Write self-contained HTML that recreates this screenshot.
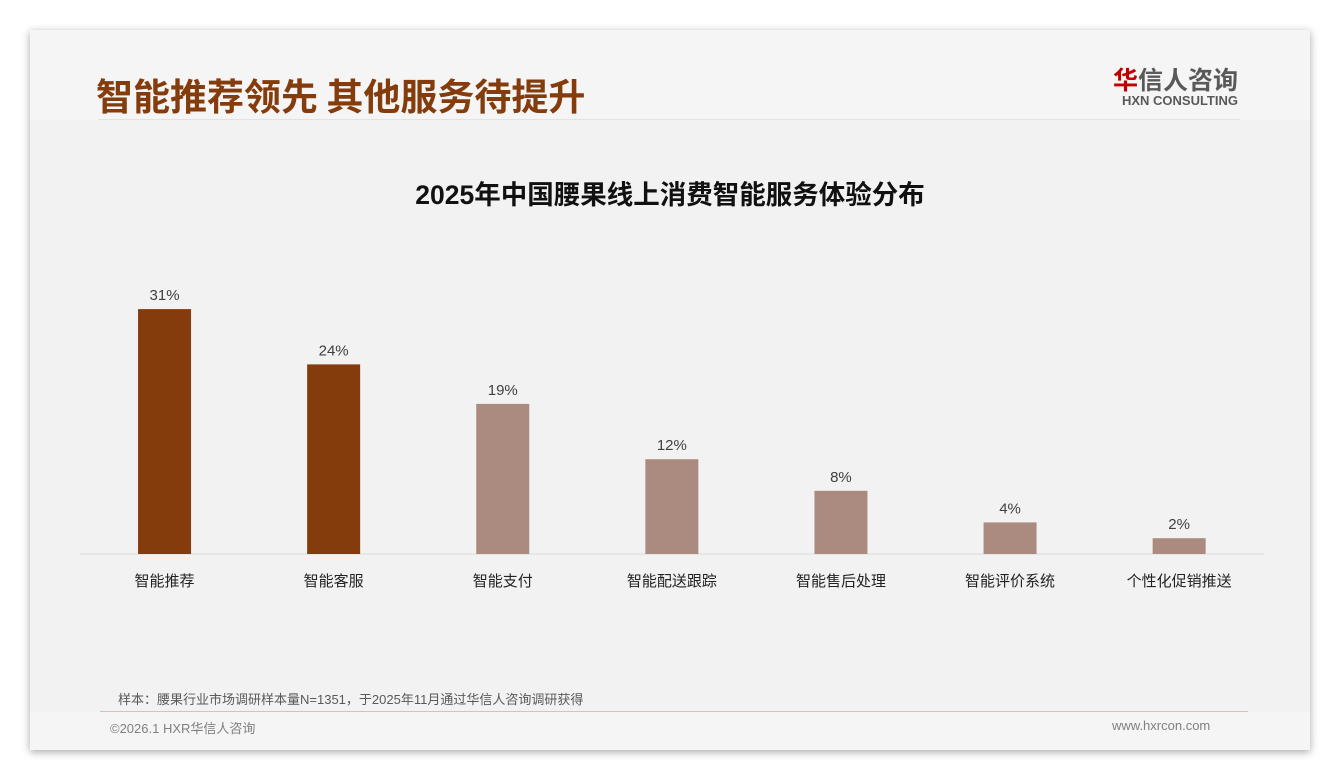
<!DOCTYPE html>
<html><head><meta charset="utf-8"><style>
body{margin:0;width:1340px;height:780px;background:#fff;font-family:"Liberation Sans","Noto Sans CJK SC",sans-serif;position:relative;overflow:hidden}
.card{position:absolute;left:30px;top:30px;width:1280px;height:720px;background:#f5f5f5;box-shadow:0 2px 8px rgba(0,0,0,.35)}
.abs{position:absolute}
</style></head><body>
<div class="card">
<div class="abs" style="left:0;top:90px;width:1280px;height:592px;background:#f2f2f2"></div>
<div class="abs" style="left:66px;top:41px;font-size:37px;font-weight:bold;color:#843c0c;font-family:'Noto Sans CJK SC',sans-serif;line-height:46px">智能推荐领先 其他服务待提升</div>
<div class="abs" style="left:68px;top:89px;width:1142px;height:1px;background:#e2e2e2"></div>
<div class="abs" style="left:1076px;top:34px;width:132px;text-align:right">
<div style="font-size:25px;font-weight:bold;color:#595959;line-height:30px;font-family:'Noto Sans CJK SC',sans-serif"><span style="color:#c00000">华</span>信人咨询</div>
<div style="font-size:13px;font-weight:bold;color:#595959;line-height:14px">HXN CONSULTING</div></div>
<div class="abs" style="left:70px;top:681px;width:1148px;height:1px;background:#d7c2b5"></div>
<div class="abs" style="left:88px;top:659px;font-size:13px;color:#595959">样本：腰果行业市场调研样本量N=1351，于2025年11月通过华信人咨询调研获得</div>
<div class="abs" style="left:80px;top:688px;font-size:13px;color:#808080">©2026.1 HXR华信人咨询</div>
<div class="abs" style="left:1082px;top:688px;font-size:13px;color:#808080">www.hxrcon.com</div>
</div>
<svg class="abs" style="left:0;top:0" width="1340" height="780" id="chart">
<text x="670" y="204" text-anchor="middle" font-size="26.5" font-weight="bold" fill="#111" font-family="Liberation Sans,Noto Sans CJK SC,sans-serif">2025年中国腰果线上消费智能服务体验分布</text>
<line x1="80" y1="554" x2="1264" y2="554" stroke="#d9d9d9"/>
</svg>
<script>
const categories=["智能推荐","智能客服","智能支付","智能配送跟踪","智能售后处理","智能评价系统","个性化促销推送"];
const values=[31,24,19,12,8,4,2];
const highlighted=[true,true,false,false,false,false,false];
const svg=document.getElementById('chart');
const ns='http://www.w3.org/2000/svg';
const x0=80,step=169.1,base=554,scale=7.9,bw=53;
const xc=i=>x0+step*(i+0.5);
const y=v=>base-v*scale;
categories.forEach((c,i)=>{
 const r=document.createElementNS(ns,'rect');
 r.setAttribute('x',xc(i)-bw/2);r.setAttribute('y',y(values[i]));
 r.setAttribute('width',bw);r.setAttribute('height',base-y(values[i]));
 r.setAttribute('fill',highlighted[i]?'#843c0c':'#ab8b80');
 
 
 svg.appendChild(r);
 const t=document.createElementNS(ns,'text');
 t.setAttribute('x',xc(i));t.setAttribute('y',y(values[i])-9);
 t.setAttribute('text-anchor','middle');t.setAttribute('font-size','15');t.setAttribute('fill','#404040');
 t.textContent=values[i]+'%';
 
 
 svg.appendChild(t);
 const l=document.createElementNS(ns,'text');
 l.setAttribute('x',xc(i));l.setAttribute('y',586);
 l.setAttribute('text-anchor','middle');l.setAttribute('font-size','15');l.setAttribute('fill','#222');
 l.setAttribute('font-family','Liberation Sans,Noto Sans CJK SC,sans-serif');
 l.textContent=c;
 
 
 svg.appendChild(l);
});
</script>
</body></html>
